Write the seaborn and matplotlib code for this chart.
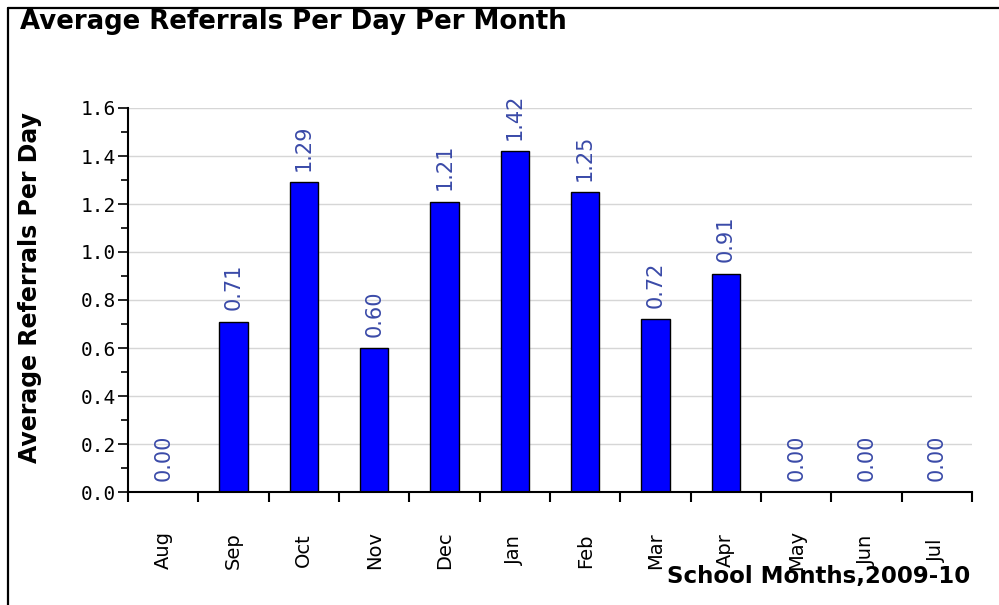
import numpy as np
import seaborn as sns
import matplotlib.pyplot as plt
from matplotlib.lines import Line2D
from matplotlib.ticker import FixedLocator, MultipleLocator

# chart data
months = ['Aug', 'Sep', 'Oct', 'Nov', 'Dec', 'Jan', 'Feb', 'Mar', 'Apr', 'May', 'Jun', 'Jul']
referrals = [0.00, 0.71, 1.29, 0.60, 1.21, 1.42, 1.25, 0.72, 0.91, 0.00, 0.00, 0.00]
yticks = [0.0, 0.2, 0.4, 0.6, 0.8, 1.0, 1.2, 1.4, 1.6]

sns.set_style('white')
plt.rcParams['font.family'] = ['DejaVu Sans']
plt.rcParams['text.color'] = 'black'
plt.rcParams['xtick.color'] = 'black'
plt.rcParams['ytick.color'] = 'black'
plt.rcParams['xtick.labelcolor'] = 'black'
plt.rcParams['ytick.labelcolor'] = 'black'

fig = plt.figure(figsize=(9.99, 6.05), dpi=100)
ax = fig.add_axes([128 / 999, 1 - 492 / 605, (972 - 128) / 999, (492 - 108) / 605])

sns.barplot(x=months, y=referrals, color='#0000ff', saturation=1, width=0.4,
            edgecolor='black', linewidth=1, ax=ax)

# value labels above bars
for cont in ax.containers:
    ax.bar_label(cont, fmt='%.2f', rotation=90, padding=8, fontsize=15, color='#3a4aa8')

ax.set_ylim(0, 1.6)
ax.set_xlim(-0.5, 11.5)
ax.set_yticks(yticks)
ax.set_yticklabels([f'{t:.1f}' for t in yticks], family='DejaVu Sans Mono',
                   fontsize=14, color='black')
ax.yaxis.set_minor_locator(MultipleLocator(0.1))
ax.tick_params(axis='y', which='major', direction='out', length=7, width=1.2,
               color='black', pad=2, left=True)
ax.tick_params(axis='y', which='minor', direction='out', length=5, width=1.2,
               color='black', left=True)

# x: ticks at category boundaries, labels at centres
ax.xaxis.set_major_locator(FixedLocator(np.arange(-0.5, 12, 1)))
ax.xaxis.set_minor_locator(FixedLocator(np.arange(12)))
ax.set_xticklabels([], minor=False)
ax.set_xticklabels(months, minor=True, rotation=90, va='center', fontsize=14, color='black')
ax.tick_params(axis='x', which='major', direction='out', length=7, width=1.5,
               color='black', bottom=True)
ax.tick_params(axis='x', which='minor', length=0, pad=42)

ax.yaxis.grid(True, color='#d6d6d6', lw=1)
ax.set_axisbelow(True)
for side in ['top', 'right']:
    ax.spines[side].set_visible(False)
for side in ['left', 'bottom']:
    ax.spines[side].set_color('black')
    ax.spines[side].set_linewidth(1.5)
ax.set_xlabel('')
ax.set_ylabel('')

fig.text(20 / 999, 1 - 22 / 605, 'Average Referrals Per Day Per Month',
         fontsize=18.7, fontweight='bold', ha='left', va='center', color='black')
fig.text(30 / 999, 1 - 288 / 605, 'Average Referrals Per Day',
         fontsize=17, fontweight='bold', rotation=90, ha='center', va='center', color='black')
fig.text(970 / 999, 1 - 577 / 605, 'School Months,2009-10',
         fontsize=16.5, fontweight='bold', ha='right', va='center', color='black')

# frame lines on top and left
fig.add_artist(Line2D([8 / 999, 1], [1 - 8 / 605, 1 - 8 / 605], color='black', lw=1.6))
fig.add_artist(Line2D([8 / 999, 8 / 999], [0, 1 - 8 / 605], color='black', lw=1.6))

fig.savefig('out.png', dpi=100)
